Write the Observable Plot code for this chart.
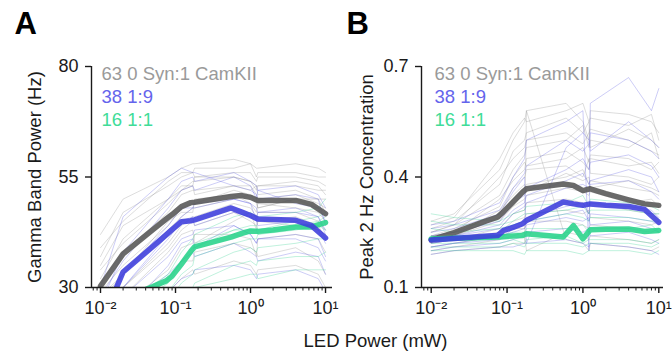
<!DOCTYPE html>
<html><head><meta charset="utf-8">
<script src="https://cdn.jsdelivr.net/npm/d3@7"></script>
<script src="https://cdn.jsdelivr.net/npm/@observablehq/plot@0.6"></script>
<style>
html,body{margin:0;padding:0;background:#fff;}
#wrap{position:relative;width:672px;height:353px;overflow:hidden;}
#wrap svg{position:absolute;left:0;top:0;}
</style></head><body><div id="wrap"></div>
<script>
// ---------- data ----------
const groupLabels = ["63 0 Syn:1 CamKII", "38 1:9", "16 1:1"];
const xTicks = [0.01, 0.1, 1, 10];
const xTickLabels = ["10\u207B\u00B2", "10\u207B\u00B9", "10\u2070", "10\u00B9"];
const gammaTicks = [30, 55, 80];
const peakTicks = [0.1, 0.4, 0.7];

// LED powers (mW) of the individual traces and of the mean curves
const xThin = [0.01, 0.02, 0.08, 0.12, 0.17, 0.18, 0.6, 1.0, 1.2, 1.25, 4, 8, 10];
const xMean = [0.01, 0.02, 0.05, 0.075, 0.09, 0.12, 0.16, 0.18, 0.55, 0.75, 1.0, 1.25, 2, 4, 6.5, 10];

// Panel A: gamma band power, individual traces
const gammaGrayThin = [
  [42,50,55,57,58,58,59,58,57,57,58,57,56],
  [39,45,54,56,56,57,57,58,55,56,56,55,55],
  [37,47,53,55,56,55,56,56,54,55,55,54,53],
  [35,44,50,53,53,55,55,54,52,53,54,53,51],
  [34,40,49,52,53,51,53,52,53,51,52,50,50],
  [32,41,50,52,54,54,55,54,53,53,53,52,52],
  [31,38,47,51,52,52,53,53,51,50,51,49,48],
  [29,35,44,48,49,49,52,51,50,48,50,50,47],
  [28,33,45,47,47,50,51,49,47,49,48,47,45],
  [27,33,43,46,48,48,50,51,49,48,50,48,47],
  [26,30,40,44,46,46,49,48,46,47,47,45,43],
  [24,28,38,42,43,40,45,47,43,45,46,44,41],
  [23,30,39,43,45,44,47,45,44,45,44,43,42],
  [22,26,34,39,40,42,42,41,37,41,42,41,38],
  [20,25,32,36,36,38,40,39,38,37,39,36,33],
  [18,22,29,32,34,33,36,35,33,34,35,33,30]
];
const gammaBlueThin = [
  [30,46,55,57,56,56,53,52,51,50,51,50,44],
  [28,36,48,52,53,52,55,53,50,52,49,48,45],
  [26,38,50,54,55,54,56,54,53,52,53,51,48],
  [25,33,44,48,48,49,50,49,48,47,48,46,42],
  [23,30,41,45,46,44,47,46,45,44,45,43,40],
  [22,30,42,46,48,48,50,49,45,47,47,46,43],
  [21,28,37,41,42,43,44,42,40,41,42,41,37],
  [19,25,33,36,38,37,40,38,37,36,38,37,33],
  [18,24,35,40,41,39,44,42,40,41,41,39,36],
  [17,22,29,32,33,34,35,34,32,33,34,32,29]
];
const gammaGreenThin = [
  [22,26,33,38,41,42,46,47,46,46,47,48,50],
  [20,24,31,36,38,40,43,44,44,43,45,46,47],
  [19,23,32,36,39,39,43,43,43,42,44,45,46],
  [18,22,29,33,35,37,40,41,41,42,43,44,43],
  [17,21,27,31,33,34,38,39,38,39,40,41,41],
  [16,19,25,28,30,31,35,36,35,36,37,37,38],
  [15,18,24,27,29,30,32,33,33,32,34,34,34]
];
// Panel A: means
const gammaGrayMean  = [30.3,37.6,43.1,45.5,46.5,48.3,49.2,49.3,50.6,50.8,50.4,49.7,49.7,49.7,48.8,46.7];
const gammaBlueMean  = [21.5,33.5,39.3,41.9,43.1,44.9,45.1,45.3,48.0,47.1,46.3,45.5,45.4,45.2,44.0,41.2];
const gammaGreenMean = [25.0,27.5,30.2,31.5,32.6,35.3,38.2,39.2,41.4,42.2,42.8,42.7,43.0,43.7,43.7,44.7];

// Panel B: peak 2 Hz concentration, individual traces
const peakGrayThin = [
  [0.28,0.30,0.42,0.50,0.55,0.58,0.60,0.55,0.50,0.58,0.57,0.55,0.52],
  [0.27,0.29,0.45,0.52,0.56,0.55,0.58,0.60,0.55,0.56,0.54,0.57,0.50],
  [0.26,0.28,0.38,0.47,0.50,0.52,0.56,0.52,0.55,0.48,0.53,0.50,0.48],
  [0.25,0.27,0.40,0.45,0.48,0.50,0.52,0.49,0.52,0.53,0.50,0.47,0.46],
  [0.25,0.27,0.35,0.42,0.46,0.48,0.50,0.54,0.48,0.50,0.48,0.52,0.45],
  [0.24,0.25,0.34,0.39,0.42,0.45,0.47,0.44,0.42,0.45,0.43,0.44,0.41],
  [0.24,0.26,0.32,0.40,0.44,0.43,0.45,0.48,0.44,0.46,0.45,0.42,0.44],
  [0.24,0.25,0.30,0.37,0.40,0.42,0.43,0.40,0.45,0.41,0.40,0.38,0.40],
  [0.23,0.24,0.31,0.35,0.38,0.36,0.41,0.39,0.40,0.37,0.39,0.37,0.36],
  [0.23,0.24,0.29,0.34,0.37,0.38,0.40,0.42,0.38,0.39,0.37,0.36,0.35],
  [0.23,0.24,0.28,0.32,0.34,0.35,0.37,0.36,0.35,0.36,0.33,0.34,0.32],
  [0.22,0.23,0.26,0.30,0.31,0.33,0.34,0.33,0.30,0.33,0.31,0.30,0.30],
  [0.22,0.23,0.25,0.28,0.29,0.30,0.31,0.30,0.31,0.29,0.28,0.27,0.28],
  [0.21,0.22,0.24,0.26,0.26,0.28,0.28,0.27,0.26,0.27,0.26,0.25,0.26],
  [0.20,0.21,0.23,0.24,0.25,0.20,0.25,0.24,0.23,0.24,0.23,0.22,0.23],
  [0.19,0.20,0.21,0.22,0.22,0.58,0.23,0.22,0.20,0.22,0.21,0.20,0.21]
];
const peakBlueThin = [
  [0.27,0.28,0.33,0.40,0.45,0.50,0.55,0.58,0.20,0.60,0.67,0.58,0.64],
  [0.26,0.27,0.31,0.37,0.41,0.43,0.50,0.47,0.49,0.52,0.50,0.47,0.45],
  [0.25,0.26,0.30,0.36,0.40,0.22,0.48,0.52,0.50,0.47,0.55,0.50,0.48],
  [0.24,0.25,0.28,0.33,0.35,0.37,0.42,0.45,0.42,0.44,0.46,0.43,0.40],
  [0.23,0.24,0.27,0.31,0.33,0.35,0.39,0.41,0.38,0.39,0.42,0.40,0.36],
  [0.23,0.24,0.26,0.30,0.32,0.33,0.37,0.38,0.37,0.38,0.39,0.36,0.34],
  [0.22,0.23,0.25,0.27,0.28,0.29,0.32,0.33,0.30,0.33,0.32,0.31,0.29],
  [0.21,0.22,0.24,0.25,0.26,0.27,0.29,0.28,0.29,0.27,0.28,0.26,0.25],
  [0.21,0.22,0.23,0.26,0.27,0.28,0.30,0.31,0.28,0.30,0.29,0.28,0.27],
  [0.20,0.21,0.22,0.23,0.24,0.25,0.26,0.25,0.26,0.24,0.25,0.23,0.22],
  [0.19,0.20,0.21,0.21,0.22,0.22,0.23,0.22,0.21,0.22,0.21,0.20,0.19]
];
const peakGreenThin = [
  [0.30,0.29,0.28,0.30,0.31,0.32,0.33,0.35,0.32,0.34,0.33,0.32,0.31],
  [0.28,0.27,0.27,0.28,0.30,0.30,0.31,0.32,0.30,0.31,0.31,0.30,0.30],
  [0.26,0.25,0.26,0.27,0.28,0.28,0.30,0.29,0.28,0.29,0.29,0.28,0.28],
  [0.24,0.23,0.24,0.25,0.25,0.26,0.26,0.27,0.25,0.26,0.26,0.27,0.25],
  [0.22,0.22,0.22,0.23,0.22,0.23,0.24,0.22,0.23,0.23,0.23,0.22,0.23],
  [0.21,0.21,0.21,0.22,0.21,0.22,0.22,0.21,0.22,0.22,0.22,0.21,0.22],
  [0.20,0.20,0.20,0.20,0.19,0.20,0.20,0.19,0.20,0.20,0.20,0.19,0.20]
];
// Panel B: means
const peakGrayMean  = [0.229,0.249,0.279,0.291,0.306,0.332,0.359,0.368,0.381,0.377,0.363,0.368,0.355,0.338,0.327,0.323];
const peakBlueMean  = [0.229,0.233,0.239,0.241,0.255,0.263,0.273,0.282,0.332,0.327,0.323,0.327,0.323,0.320,0.312,0.277];
const peakGreenMean = [0.232,0.234,0.236,0.237,0.238,0.240,0.241,0.246,0.237,0.268,0.232,0.257,0.258,0.259,0.252,0.255];

// ---------- drawing ----------
const FONT = '"Liberation Sans", Arial, Helvetica, sans-serif';
const thinColors = ["#8f8f8f", "#5a5ae0", "#30d090"];
const meanColors = ["#555555", "#3c3cdc", "#27d38a"];
const legendColors = ["#9a9a9a", "#6464ec", "#40dc98"];

const minorTicks = [];
for (const d of [0.001, 0.01, 0.1, 1, 10]) for (let k = 2; k <= 9; k++) minorTicks.push(d * k);

function traceRows(xs, arr, key) {
  return arr.flatMap((tr, i) => tr.map((v, j) => ({x: xs[j], y: v, id: key + i})));
}
function meanRows(arr) { return arr.map((v, j) => ({x: xMean[j], y: v})); }

function panel(cfg) {
  const xDomain = [Math.pow(10, cfg.logLo), Math.pow(10, cfg.logHi)];
  const minors = minorTicks.filter(t => t >= xDomain[0] && t <= xDomain[1]);
  const marks = [];
  cfg.thin.forEach((arr, g) => {
    marks.push(Plot.line(traceRows(xThin, arr, "t" + g), {
      x: "x", y: "y", z: "id", stroke: thinColors[g], strokeOpacity: 0.3, strokeWidth: 1, clip: true
    }));
  });
  [0, 2, 1].forEach(g => {
    marks.push(Plot.line(meanRows(cfg.means[g]), {
      x: "x", y: "y", stroke: meanColors[g], strokeOpacity: 0.88, strokeWidth: 5.5,
      strokeLinejoin: "round", strokeLinecap: "round", clip: true
    }));
  });
  marks.push(
    Plot.ruleX([xDomain[0]], {stroke: "#1a1a1a", strokeWidth: 1.4}),
    Plot.ruleY([cfg.yDomain[0]], {stroke: "#1a1a1a", strokeWidth: 1.4}),
    Plot.axisY({ticks: cfg.yTicks, tickSize: 6, tickPadding: 7, label: null, fontSize: 18, stroke: "#1a1a1a", strokeWidth: 1.4,
      tickFormat: cfg.yFormat}),
    Plot.axisX({ticks: xTicks, tickSize: 6, tickPadding: 8, label: null, fontSize: 18, stroke: "#1a1a1a", strokeWidth: 1.4,
      tickFormat: d => xTickLabels[xTicks.indexOf(d)]}),
    Plot.axisX({ticks: minors, tickSize: 3.5, tickFormat: () => "", label: null, stroke: "#1a1a1a", strokeWidth: 1}),
    Plot.text([cfg.yLabel], {text: d => d, frameAnchor: "left", dx: cfg.yLabelDx, rotate: -90, textAnchor: "middle",
      lineAnchor: "middle", fontSize: 18.5, fill: "#1a1a1a"}),
    Plot.text([cfg.letter], {text: d => d, frameAnchor: "top-left", dx: cfg.letterDx, dy: -33, lineAnchor: "bottom",
      textAnchor: "start", fontSize: 31, fontWeight: "bold", fill: "#000"})
  );
  groupLabels.forEach((lab, g) => {
    marks.push(Plot.text([lab], {text: d => d, frameAnchor: "top-left", dx: cfg.legendDx, dy: 13 + 23 * g,
      lineAnchor: "bottom", textAnchor: "start", fontSize: 18.5, fill: legendColors[g]}));
  });
  if (cfg.xLabel) {
    marks.push(Plot.text([cfg.xLabel], {text: d => d, frameAnchor: "bottom-left", dx: cfg.xLabelDx, dy: 59,
      lineAnchor: "bottom", textAnchor: "middle", fontSize: 18.5, fill: "#1a1a1a"}));
  }
  return Plot.plot({
    width: 672, height: 353,
    marginLeft: cfg.left, marginRight: 672 - cfg.right, marginTop: 66, marginBottom: 66,
    x: {type: "log", domain: xDomain},
    y: {domain: cfg.yDomain},
    style: {background: "transparent", fontFamily: FONT, fontSize: "18px", color: "#1a1a1a", overflow: "visible"},
    marks
  });
}

const wrap = document.getElementById("wrap");
wrap.appendChild(panel({
  left: 91, right: 332, logLo: -2.12, logHi: 1.093,
  yDomain: [30, 80], yTicks: gammaTicks, yFormat: d3.format("d"), yLabel: "Gamma Band Power (Hz)", yLabelDx: -56,
  letter: "A", letterDx: -77, legendDx: 10,
  thin: [gammaGrayThin, gammaBlueThin, gammaGreenThin],
  means: [gammaGrayMean, gammaBlueMean, gammaGreenMean]
}));
wrap.appendChild(panel({
  left: 421, right: 663, logLo: -2.128, logHi: 1.062,
  yDomain: [0.1, 0.7], yTicks: peakTicks, yFormat: d3.format(".1f"), yLabel: "Peak 2 Hz Concentration", yLabelDx: -54,
  letter: "B", letterDx: -75, legendDx: 13,
  thin: [peakGrayThin, peakBlueThin, peakGreenThin],
  means: [peakGrayMean, peakBlueMean, peakGreenMean],
  xLabel: "LED Power (mW)", xLabelDx: -46
}));
</script></body></html>
